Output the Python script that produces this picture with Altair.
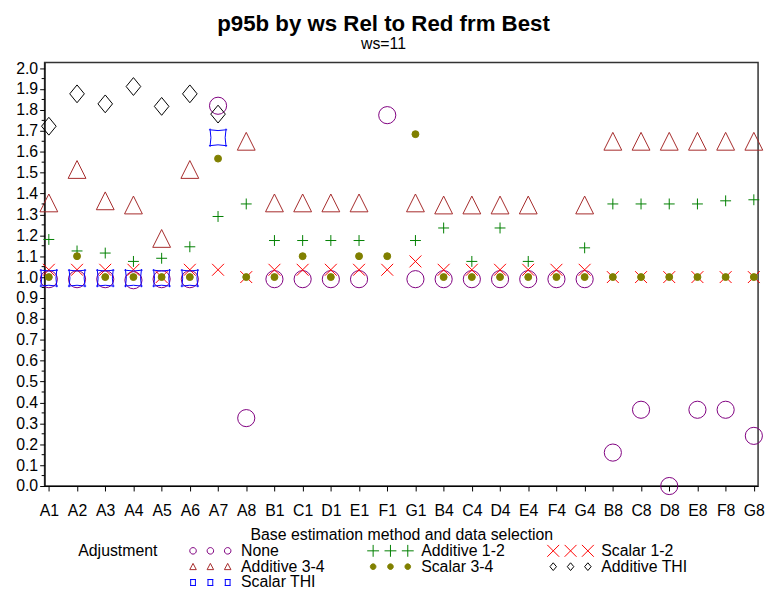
import altair as alt
import pandas as pd

FONT = "Liberation Sans, Arial, sans-serif"
TITLE_FONT = "Liberation Sans, Arial, sans-serif"

categories = ["A1", "A2", "A3", "A4", "A5", "A6", "A7", "A8", "B1", "C1", "D1", "E1", "F1",
              "G1", "B4", "C4", "D4", "E4", "F4", "G4", "B8", "C8", "D8", "E8", "F8", "G8"]

series_names = ["None", "Additive 1-2", "Scalar 1-2", "Additive 3-4", "Scalar 3-4",
                "Additive THI", "Scalar THI"]

none_vals = [0.99, 0.99, 0.99, 0.985, 0.99, 0.99, 1.82, 0.325, 0.99, 0.99, 0.99, 0.99, 1.775,
             0.99, 0.99, 0.99, 0.99, 0.99, 0.99, 0.99, 0.16, 0.365, 0.0, 0.365, 0.365, 0.24]
add12_vals = [1.18, 1.125, 1.115, 1.075, 1.09, 1.145, 1.29, 1.35, 1.175, 1.175, 1.175, 1.175, None,
              1.175, 1.235, 1.075, 1.235, 1.075, None, 1.14, 1.35, 1.35, 1.35, 1.35, 1.365, 1.37]
scal12_vals = [1.035, 1.035, 1.035, 1.035, 1.0, 1.035, 1.035, 1.0, 1.035, 1.035, 1.035, 1.035, 1.035,
               1.075, 1.035, 1.035, 1.035, 1.035, 1.035, 1.035, 1.0, 1.0, 1.0, 1.0, 1.0, 1.0]
add34_vals = [1.355, 1.515, 1.365, 1.345, 1.185, 1.515, None, 1.65, 1.355, 1.355, 1.355, 1.355, None,
              1.355, 1.345, 1.345, 1.345, 1.345, None, 1.345, 1.65, 1.65, 1.65, 1.65, 1.65, 1.65]
scal34_vals = [1.0, 1.1, 1.0, 1.0, 1.0, 1.0, 1.567, 1.0, 1.0, 1.1, 1.0, 1.1, 1.1,
               1.684, 1.0, 1.0, 1.0, 1.0, 1.0, 1.0, 1.0, 1.0, 1.0, 1.0, 1.0, 1.0]
addthi_vals = [1.722, 1.877, 1.829, 1.912, 1.817, 1.877, 1.78] + [None] * 19
scalthi_vals = [0.995, 0.995, 0.995, 0.995, 0.995, 0.995, 1.667] + [None] * 19

colors = ["#800080", "#008000", "#FF0000", "#A52A2A", "#808000", "#000000", "#0000FF"]

y_ticks = [round(i * 0.1, 1) for i in range(21)]
y_minor = [round(0.05 + i * 0.1, 2) for i in range(20)]

# marker shapes (unit paths)
P_PLUS = "M-1,0L1,0M0,-1L0,1"
P_X = "M-1,-1L1,1M-1,1L1,-1"
P_TRI = "M0,-1L1,1L-1,1Z"
P_DIAM = "M0,-1L0.82,0L0,1L-0.82,0Z"
P_SQ = ("M-1,-1Q0,-0.8,1,-1Q0.8,0,1,1Q0,0.8,-1,1Q-0.8,0,-1,-1Z"
        "M-1,-1L-1.15,-1M-1,-1L-1,-1.15M1,-1L1.15,-1M1,-1L1,-1.15"
        "M1,1L1.15,1M1,1L1,1.15M-1,1L-1.15,1M-1,1L-1,1.15")
shapes = ["circle", P_PLUS, P_X, P_TRI, "circle", P_DIAM, P_SQ]
sizes = [300, 121, 144, 324, 49, 324, 256]
fills = ["transparent", "transparent", "transparent", "transparent", "#808000",
         "transparent", "transparent"]

rows = []
for k, (s, vals) in enumerate(zip(series_names, [none_vals, add12_vals, scal12_vals, add34_vals,
                                                  scal34_vals, addthi_vals, scalthi_vals])):
    for c, v in zip(categories, vals):
        if v is not None:
            rows.append({"method": c, "adjustment": s, "value": v, "k": k})
df = pd.DataFrame(rows)

# legend: triple symbols (unit = 3 px with symbolSize 36)
SP = 17.5 / 3.0


def f(v):
    return f"{v:.2f}"


def triple(fn):
    return "".join(fn(cx) for cx in (-2 * SP, -SP, 0.0))


def lg_circle(cx, r=1.1):
    return f"M{f(cx + r)},0A{r},{r} 0 1,1 {f(cx - r)},0A{r},{r} 0 1,1 {f(cx + r)},0Z"


leg_shapes = [
    triple(lg_circle),
    triple(lambda cx: f"M{f(cx - 2)},0L{f(cx + 2)},0M{f(cx)},-2L{f(cx)},2"),
    triple(lambda cx: f"M{f(cx - 2)},-2L{f(cx + 2)},2M{f(cx - 2)},2L{f(cx + 2)},-2"),
    triple(lambda cx: f"M{f(cx)},-1.1L{f(cx + 1.1)},1L{f(cx - 1.1)},1Z"),
    triple(lambda cx: lg_circle(cx, 0.95)),
    triple(lambda cx: f"M{f(cx)},-1.3L{f(cx + 1.1)},0L{f(cx)},1.3L{f(cx - 1.1)},0Z"),
    triple(lambda cx: (f"M{f(cx - 1)},-1L{f(cx + 1)},-1M{f(cx - 1)},1L{f(cx + 1)},1"
                       f"M{f(cx - 0.8)},-1L{f(cx - 0.8)},1M{f(cx + 0.8)},-1L{f(cx + 0.8)},1")),
]

legend = alt.Legend(
    title="Adjustment", orient="none", legendX=34, legendY=485.5, columns=3,
    direction="horizontal", titleOrient="left", titleAnchor="start", titlePadding=62,
    titleFontSize=16, titleFontWeight="normal", titleFont=FONT, titleColor="black",
    labelFontSize=16, labelFont=FONT, labelColor="black", labelOffset=5.5, labelLimit=400,
    symbolSize=36, symbolStrokeWidth=1, columnPadding=40, rowPadding=0, padding=0,
)

x_axis = alt.Axis(title="Base estimation method and data selection", labelAngle=0,
                  labelFontSize=16, titleFontSize=16, titleFontWeight="normal",
                  tickSize=5, labelPadding=12, titlePadding=8, grid=False,
                  domainColor="black", tickColor="black", labelColor="black",
                  titleColor="black", labelFont=FONT, titleFont=FONT)
x_scale = alt.Scale(type="point", domain=categories, padding=0.15)
y_scale = alt.Scale(domain=[0, 2.027], nice=False, zero=False)
y_axis = alt.Axis(title=None, values=y_ticks, format=".1f", labelFontSize=16,
                  labelOverlap=False, tickSize=5, labelPadding=2, grid=False,
                  domainColor="black", tickColor="black", labelColor="black", labelFont=FONT)

points = alt.Chart(df).mark_point(filled=False, strokeWidth=1, opacity=1).encode(
    x=alt.X("method:N", sort=categories, scale=x_scale, axis=x_axis),
    y=alt.Y("value:Q", scale=y_scale, axis=y_axis),
    color=alt.Color("adjustment:N", scale=alt.Scale(domain=series_names, range=colors),
                    legend=None),
    shape=alt.Shape("adjustment:N", scale=alt.Scale(domain=series_names, range=shapes),
                    legend=None),
    fill=alt.Fill("adjustment:N", scale=alt.Scale(domain=series_names, range=fills),
                  legend=None),
    size=alt.Size("adjustment:N", scale=alt.Scale(type="ordinal", domain=series_names,
                                                   range=sizes), legend=None),
    order=alt.Order("k:Q"),
)

legend_layer = alt.Chart(df).transform_filter("false").mark_point(
    filled=False, strokeWidth=1, opacity=1).encode(
    x=alt.X("method:N", sort=categories, scale=x_scale, axis=x_axis),
    y=alt.Y("value:Q", scale=y_scale, axis=y_axis),
    color=alt.Color("adjustment:N", scale=alt.Scale(domain=series_names, range=colors),
                    legend=legend),
    shape=alt.Shape("adjustment:N", scale=alt.Scale(domain=series_names, range=leg_shapes),
                    legend=legend),
    fill=alt.Fill("adjustment:N", scale=alt.Scale(domain=series_names, range=fills),
                  legend=legend),
)

minor = alt.Chart(pd.DataFrame({"m": y_minor})).mark_rule(color="black", strokeWidth=1).encode(
    y=alt.Y("m:Q", scale=y_scale, axis=y_axis),
    x=alt.value(-3), x2=alt.value(0),
)

chart = alt.layer(points, minor, legend_layer).resolve_scale(
    color="independent", shape="independent", fill="independent"
).properties(
    width=721, height=428,
    autosize=alt.AutoSizeParams(type="none"),
    padding={"left": 37, "top": 52, "right": 7, "bottom": 102},
    title=alt.TitleParams(text="p95b by ws Rel to Red frm Best", subtitle="ws=11",
                          font=TITLE_FONT, fontSize=22.5, fontWeight="bold", color="black",
                          subtitleFont=FONT, subtitleFontSize=16, subtitleColor="black",
                          anchor="middle", frame="group", dx=-18, offset=8,
                          subtitlePadding=1),
).configure(font=FONT).configure_view(stroke="#333333", strokeWidth=1.5)

chart.save("out.html", embed_options={"renderer": "svg", "actions": False})
